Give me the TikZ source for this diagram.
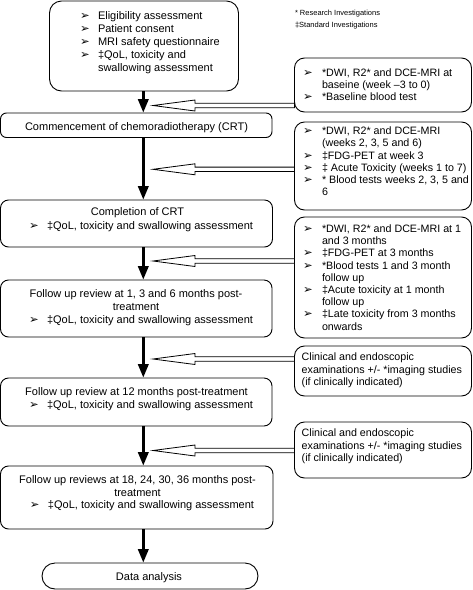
\documentclass[tikz,border=0pt]{standalone}
\usepackage{fontspec}
\setmainfont{Liberation Sans}
\newfontfamily\bulfont{DejaVu Sans}
\usetikzlibrary{arrows.meta,calc}
\newcommand{\bl}{\makebox[18pt][l]{\bulfont\fontsize{11.5}{11.5}\selectfont ➢}}
\newcommand{\br}{\makebox[19pt][l]{\bulfont\fontsize{11.5}{11.5}\selectfont ➢}}
\newcommand{\indl}{\hspace*{18pt}}
\newcommand{\indr}{\hspace*{19pt}}
\tikzset{
  box/.style={draw, line width=0.9pt, rounded corners=#1, fill=white, inner sep=0pt, outer sep=0pt},
  box/.default=10pt,
  txt/.style={inner sep=0pt, outer sep=0pt, font=\fontsize{11}{13}\selectfont},
  rtxt/.style={inner sep=0pt, outer sep=0pt, font=\fontsize{10.7}{12.2}\selectfont},
  legend/.style={inner sep=0pt, outer sep=0pt, font=\fontsize{7.5}{9}\selectfont},
  flow/.style={line width=3.5pt, -{Triangle[length=14pt,width=10pt]}},
  hollow/.style={draw, line width=0.8pt, fill=white, line join=miter}
}
\begin{document}
\begin{tikzpicture}[x=1pt,y=-1pt]
\useasboundingbox (0,0) rectangle (473,590);
\coordinate (ax) at (143.3,0);

% ---- left column boxes ----
\node[box=12pt, minimum width=189pt, minimum height=90pt] (top) at (144,46) {};
\node[box=6pt, minimum width=271.5pt, minimum height=24.5pt] (crt) at (136.25,125.25) {};
\node[box=8pt, minimum width=272pt, minimum height=47pt] (comp) at (136.5,223.5) {};
\node[box=8pt, minimum width=271.5pt, minimum height=57pt] (fa) at (136.25,308.5) {};
\node[box=8pt, minimum width=271.5pt, minimum height=48pt] (fb) at (136.25,402) {};
\node[box=8pt, minimum width=272.5pt, minimum height=63pt] (fc) at (136.75,497.5) {};
\node[box=13pt, minimum width=216pt, minimum height=26pt] (data) at (150,576) {};

% ---- right column boxes ----
\node[box=10pt, minimum width=177pt, minimum height=54pt] (ra) at (383,85) {};
\node[box=10pt, minimum width=177pt, minimum height=88pt] (rb) at (383,166) {};
\node[box=10pt, minimum width=177pt, minimum height=121pt] (rc) at (383,277.5) {};
\node[box=10pt, minimum width=177pt, minimum height=50pt] (rd) at (383,371) {};
\node[box=10pt, minimum width=177pt, minimum height=56pt] (re) at (383,450) {};

% ---- texts left ----
\node[txt, anchor=base west] (ttop) at (80,19) {\begin{tabular}[t]{@{}l@{}}
\bl Eligibility assessment\\
\bl Patient consent\\
\bl MRI safety questionnaire\\
\bl ‡QoL, toxicity and\\
\indl swallowing assessment
\end{tabular}};
\node[txt, anchor=base] (tcrt) at (136.5,130) {Commencement of chemoradiotherapy (CRT)};
\node[txt, anchor=base] (tcomp) at (137.5,215) {Completion of CRT};
\node[txt, anchor=base west] (tcompb) at (29,229) {\bl ‡QoL, toxicity and swallowing assessment};
\node[txt, anchor=base] (tfa) at (136,297.8) {\begin{tabular}[t]{@{}c@{}}
Follow up review at 1, 3 and 6 months post-\\ treatment\end{tabular}};
\node[txt, anchor=base west] (tfab) at (29,323.5) {\bl ‡QoL, toxicity and swallowing assessment};
\node[txt, anchor=base] (tfb) at (136.5,395.2) {Follow up review at 12 months post-treatment};
\node[txt, anchor=base west] (tfbb) at (29,408.5) {\bl ‡QoL, toxicity and swallowing assessment};
\node[txt, anchor=base] (tfc) at (137.5,483.5) {\begin{tabular}[t]{@{}c@{}}
Follow up reviews at 18, 24, 30, 36 months post-\\ treatment\end{tabular}};
\node[txt, anchor=base west] (tfcb) at (30,508.5) {\bl ‡QoL, toxicity and swallowing assessment};
\node[txt, anchor=base] (tdata) at (149,580) {Data analysis};

% ---- texts right ----
\node[legend, anchor=base west] (lg1) at (295,15.2) {* Research Investigations};
\node[legend, anchor=base west] (lg2) at (295,27.5) {‡Standard Investigations};
\node[rtxt, anchor=base west] (tra) at (303,76.2) {\begin{tabular}[t]{@{}l@{}}
\br *DWI, R2* and DCE-MRI at\\
\indr baseine (week –3 to 0)\\
\br *Baseline blood test
\end{tabular}};
\node[rtxt, anchor=base west] (trb) at (303,134.7) {\begin{tabular}[t]{@{}l@{}}
\br *DWI, R2* and DCE-MRI\\
\indr (weeks 2, 3, 5 and 6)\\
\br ‡FDG-PET at week 3\\
\br ‡ Acute Toxicity (weeks 1 to 7)\\
\br * Blood tests weeks 2, 3, 5 and\\
\indr 6
\end{tabular}};
\node[rtxt, anchor=base west] (trc) at (303,232.5) {\begin{tabular}[t]{@{}l@{}}
\br *DWI, R2* and DCE-MRI at 1\\
\indr and 3 months\\
\br ‡FDG-PET at 3 months\\
\br *Blood tests 1 and 3 month\\
\indr follow up\\
\br ‡Acute toxicity at 1 month\\
\indr follow up\\
\br ‡Late toxicity from 3 months\\
\indr onwards
\end{tabular}};
\node[rtxt, anchor=base west] (trd) at (301.7,360.8) {\begin{tabular}[t]{@{}l@{}}
Clinical and endoscopic\\
examinations +/- *imaging studies\\
(if clinically indicated)
\end{tabular}};
\node[rtxt, anchor=base west] (tre) at (301.7,436.8) {\begin{tabular}[t]{@{}l@{}}
Clinical and endoscopic\\
examinations +/- *imaging studies\\
(if clinically indicated)
\end{tabular}};

% ---- main flow arrows ----
\draw[flow] (top.south -| ax) -- (crt.north -| ax);
\draw[flow] (crt.south -| ax) -- (comp.north -| ax);
\draw[flow] (comp.south -| ax) -- (fa.north -| ax);
\draw[flow] (fa.south -| ax) -- (fb.north -| ax);
\draw[flow] (fb.south -| ax) -- (fc.north -| ax);
\draw[flow] (fc.south -| ax) -- (data.north -| ax);

% ---- hollow arrows ----
\coordinate (t1) at (153,105.5);
\coordinate (t2) at (153,169.3);
\coordinate (t3) at (153,261);
\coordinate (t4) at (153,359);
\coordinate (t5) at (153,450.5);
\foreach \t/\b in {t1/ra,t2/rb,t3/rc,t4/rd,t5/re}{
  \path[hollow] (\t) -- ($(\t)+(42,-5.5)$) -- ($(\t)+(42,-2.2)$) coordinate (u)
     -- (u -| \b.west) -- ($(u -| \b.west)+(0,4.4)$)
     -- ($(\t)+(42,2.2)$) -- ($(\t)+(42,5.5)$) -- cycle;
}
\end{tikzpicture}
\end{document}
